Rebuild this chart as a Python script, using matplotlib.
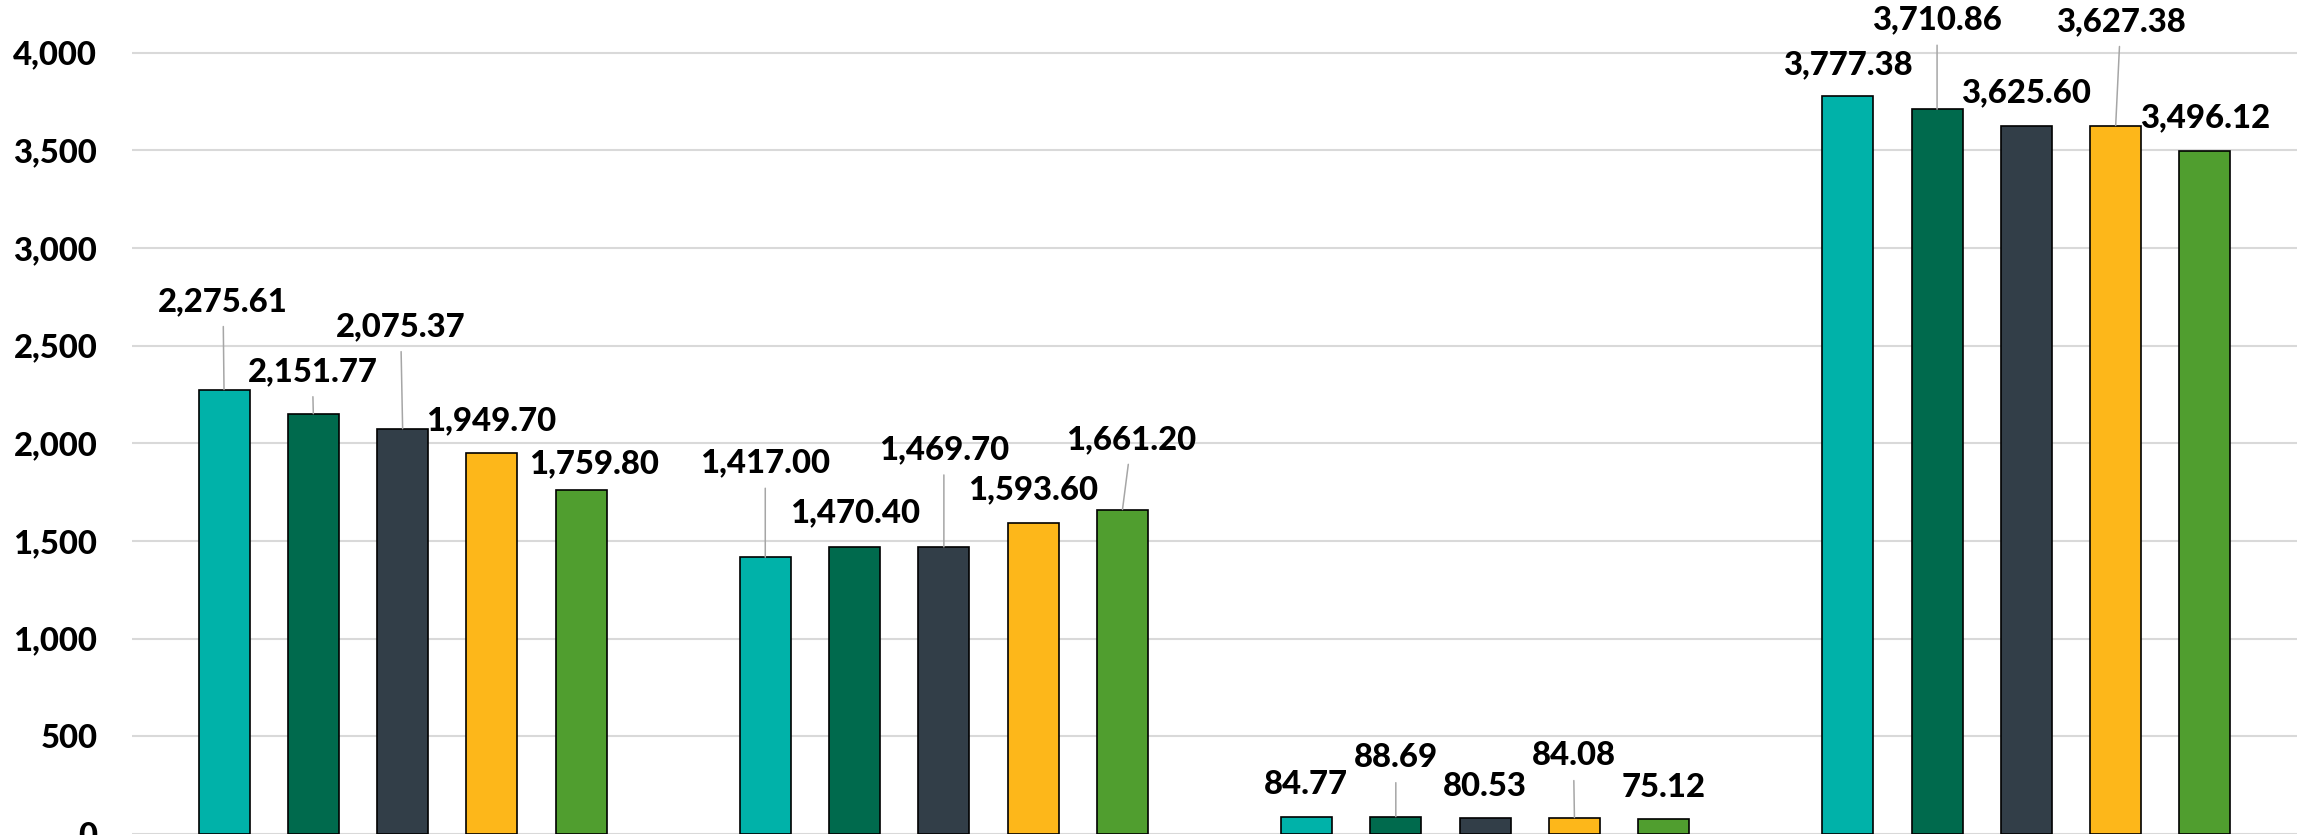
import matplotlib
matplotlib.use("Agg")
import matplotlib.pyplot as plt
from matplotlib.ticker import FuncFormatter
import numpy as np

# values per series, one entry per category group
groups = ["Group 1", "Group 2", "Group 3", "Group 4"]
series_1 = [2275.61, 1417.00, 84.77, 3777.38]
series_2 = [2151.77, 1470.40, 88.69, 3710.86]
series_3 = [2075.37, 1469.70, 80.53, 3625.60]
series_4 = [1949.70, 1593.60, 84.08, 3627.38]
series_5 = [1759.80, 1661.20, 75.12, 3496.12]
y_ticks = [0, 500, 1000, 1500, 2000, 2500, 3000, 3500, 4000]

colors = ["#00B2A9", "#006A4D", "#323E48", "#FDB71A", "#509E2F"]

# label placement (pixel offsets from bar top) and whether a leader line is drawn
label_offsets = [
    [(-1, 88), (0, 94), (-1, 33), (0, 31)],
    [(-1, 42), (0, 34), (0, 59), (0, 89)],
    [(-2, 102), (0, 97), (0, 32), (0, 33)],
    [(-1, 32), (0, 33), (-1, 62), (5, 104)],
    [(13, 27), (9, 70), (0, 32), (0, 33)],
]
leaders = [
    [True, True, False, False],
    [True, False, True, True],
    [True, True, False, False],
    [False, False, True, True],
    [False, True, False, False],
]

plt.rcParams["font.family"] = ["Lato", "DejaVu Sans"]
weight = 900

fig = plt.figure(figsize=(23.05, 8.35), dpi=100)
ax = fig.add_axes([132 / 2305, 1 / 835, 2165 / 2305, 834 / 835])

all_series = [series_1, series_2, series_3, series_4, series_5]
x = np.arange(len(groups))
step = 0.165
width = 0.0942

for j, values in enumerate(all_series):
    xs = x + (j - 2) * step
    ax.bar(xs, values, width=width, color=colors[j], edgecolor="black",
           linewidth=1.2, zorder=3)
    for k, v in enumerate(values):
        dx, dy = label_offsets[j][k]
        arrow = None
        if leaders[j][k]:
            arrow = dict(arrowstyle="-", color="#A6A6A6", lw=1.1,
                         patchA=None, shrinkA=18, shrinkB=0)
        ax.annotate(f"{v:,.2f}", xy=(xs[k], v), xytext=(dx, dy),
                    textcoords="offset pixels", ha="center", va="center",
                    fontsize=23.7, fontweight=weight, color="black",
                    arrowprops=arrow, zorder=4, annotation_clip=False)

ax.set_xlim(-0.5, 3.5)
ax.set_ylim(0, 4270)
ax.set_yticks(y_ticks)
ax.yaxis.set_major_formatter(FuncFormatter(lambda v, p: f"{v:,.0f}"))
ax.tick_params(axis="y", length=0, pad=25, labelsize=23.7)
ax.set_xticks([])
for lab in ax.get_yticklabels():
    lab.set_fontweight(weight)
ax.grid(axis="y", color="#D9D9D9", linewidth=1.5, zorder=0)
ax.set_axisbelow(True)
for s in ax.spines.values():
    s.set_visible(False)

fig.savefig("out.png", dpi=100)
